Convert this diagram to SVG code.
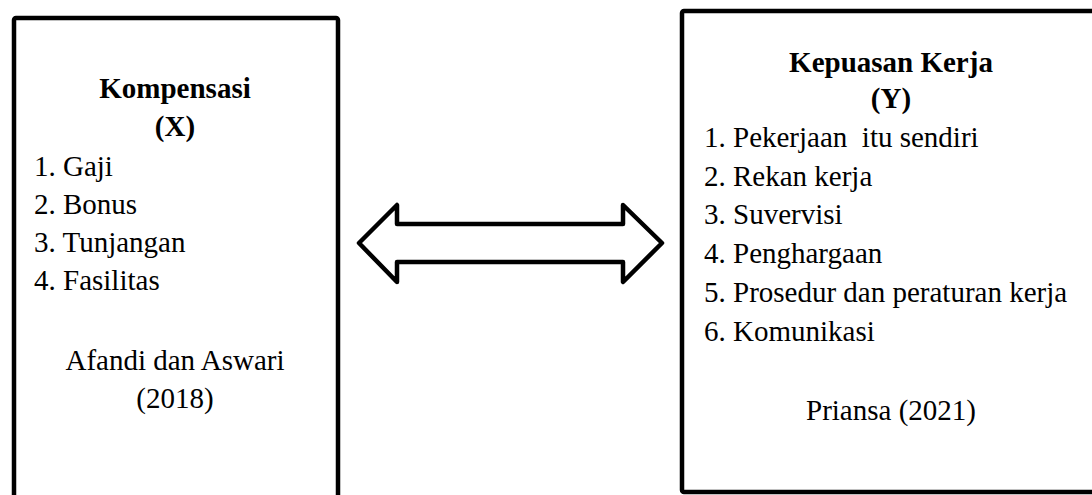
<svg xmlns="http://www.w3.org/2000/svg" width="1092" height="495" viewBox="0 0 1092 495">
<style>
.box{fill:#fff;stroke:#000;stroke-width:4.5;stroke-linejoin:round}
.t{font-family:"Liberation Serif","Times New Roman",serif;font-size:29px;fill:#000;white-space:pre}
.b{font-weight:bold}
.c{text-anchor:middle}
.arrow{fill:#fff;stroke:#000;stroke-width:4.5;stroke-linejoin:round}
</style>
<rect width="1092" height="495" fill="#fff"/>
<g id="node-kompensasi">
<rect class="box" x="14" y="18" width="324" height="510" rx="2"/>
<text class="t b c" x="175" y="98">Kompensasi</text>
<text class="t b c" x="175" y="136">(X)</text>
<text class="t" x="34" y="176">1. Gaji</text>
<text class="t" x="34" y="214">2. Bonus</text>
<text class="t" x="34" y="252">3. Tunjangan</text>
<text class="t" x="34" y="290">4. Fasilitas</text>
<text class="t c" x="175" y="370">Afandi dan Aswari</text>
<text class="t c" x="175" y="408">(2018)</text>
</g>
<g id="node-kepuasan">
<rect class="box" x="682" y="11" width="430" height="481" rx="2"/>
<text class="t b c" x="891" y="72">Kepuasan Kerja</text>
<text class="t b c" x="891" y="108">(Y)</text>
<text class="t" x="704" y="147" xml:space="preserve">1. Pekerjaan  itu sendiri</text>
<text class="t" x="704" y="186">2. Rekan kerja</text>
<text class="t" x="704" y="224">3. Suvervisi</text>
<text class="t" x="704" y="263">4. Penghargaan</text>
<text class="t" x="704" y="302">5. Prosedur dan peraturan kerja</text>
<text class="t" x="704" y="341">6. Komunikasi</text>
<text class="t c" x="891" y="420">Priansa (2021)</text>
</g>
<g id="connectors">
<polygon class="arrow" points="359,243 397,205 397,224 623,224 623,205 662,243 623,282 623,262 397,262 397,282"/>
</g>
</svg>
